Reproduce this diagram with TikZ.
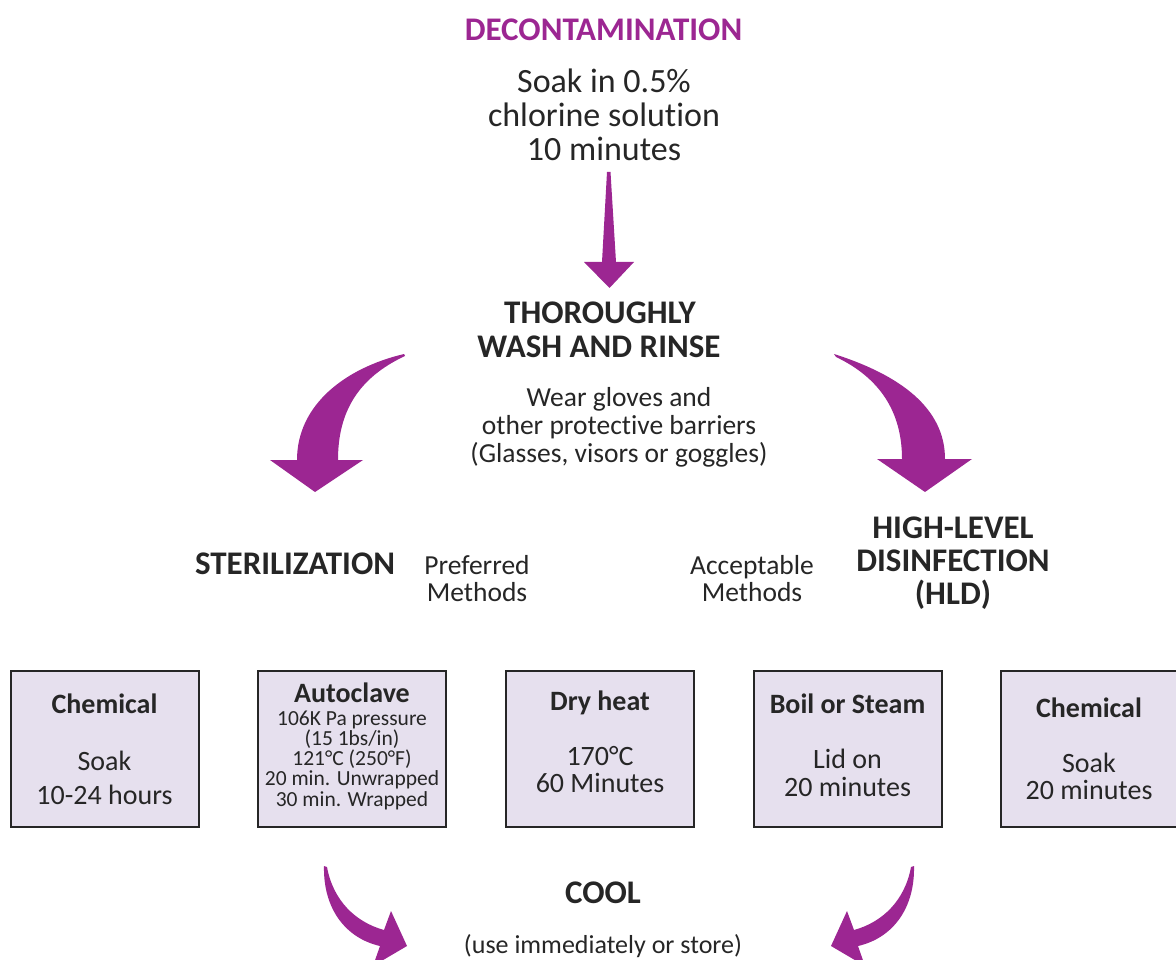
\documentclass[tikz,border=0pt]{standalone}
\usepackage{fontspec}
\setmainfont{Carlito}[Ligatures=NoCommon]
\definecolor{plum}{RGB}{156,38,146}
\definecolor{boxfill}{RGB}{230,224,238}
\definecolor{ink}{RGB}{38,38,38}
\begin{document}
\begin{tikzpicture}[x=1pt,y=-1pt,
  txt/.style={text=ink,inner sep=0pt,anchor=base},
  heading/.style={txt,font=\bfseries\fontsize{33}{33}\selectfont},
  lead/.style={txt,font=\fontsize{34}{34}\selectfont},
  note/.style={txt,font=\fontsize{27.5}{28}\selectfont},
  small/.style={txt,font=\fontsize{26}{26}\selectfont},
  boxtitle/.style={txt,font=\bfseries\fontsize{28}{28}\selectfont},
  boxbody/.style={txt,font=\fontsize{28}{28}\selectfont},
  boxtiny/.style={txt,font=\fontsize{21.5}{21.5}\selectfont},
  method/.style={draw=ink,line width=2pt,fill=boxfill,minimum width=188,minimum height=156,inner sep=0pt},
  bigarrow/.style={fill=plum,draw=none}
]
\useasboundingbox (0,0) rectangle (1176,960);
\clip (0,0) rectangle (1176,960);

% --- decontamination ---
\node[heading,text=plum] (decon) at (603.5,41) {DECONTAMINATION};
\node[lead] (soak1) at (604,92.5) {Soak in 0.5\%};
\node[lead] (soak2) at (604,126.5) {chlorine solution};
\node[lead] (soak3) at (604,160.5) {10 minutes};

% straight arrow down to washing
\fill[bigarrow] (607,172) -- (610.5,172) -- (616,262) -- (634,262) -- (609.5,288)
  -- (584,262) -- (602,262) -- cycle;

% --- wash and rinse ---
\node[heading] (wash1) at (600,323.5) {THOROUGHLY};
\node[heading] (wash2) at (599,357) {WASH AND RINSE};
\node[note] (wear1) at (619,406) {Wear gloves and};
\node[note] (wear2) at (619,434) {other protective barriers};
\node[note] (wear3) at (619,462) {(Glasses, visors or goggles)};

% curved arrow to sterilization
\fill[bigarrow] (404,354) .. controls (345,368) and (297,405) .. (297,460)
  -- (270,460) -- (315,492) -- (363,460) -- (338,460)
  .. controls (338,412) and (358,378) .. (405,356) -- cycle;

% curved arrow to high-level disinfection
\fill[bigarrow] (834,354) .. controls (900,375) and (945,408) .. (945,459)
  -- (972,459) -- (925,492) -- (877,459) -- (902,459)
  .. controls (902,412) and (880,378) .. (836,357) -- cycle;

% --- branch headings ---
\node[heading] (steril) at (295,574) {STERILIZATION};
\node[note] (pref1) at (477,574) {Preferred};
\node[note] (pref2) at (477,601) {Methods};
\node[note] (acc1) at (752,574) {Acceptable};
\node[note] (acc2) at (752,601) {Methods};
\node[heading] (hld1) at (953,538) {HIGH-LEVEL};
\node[heading] (hld2) at (953,571.5) {DISINFECTION};
\node[heading] (hld3) at (953,604) {(HLD)};

% --- method boxes ---
\node[method] (chemA) at (104.5,748.5) {};
\node[method] (autoc) at (352,748.5) {};
\node[method] (dryht) at (600,748.5) {};
\node[method] (boil)  at (847.5,748.5) {};
\node[method] (chemB) at (1095,748.5) {};

\node[boxtitle] (chemAt) at (104.5,713) {Chemical};
\node[boxbody]  (chemA1) at (104.5,770) {Soak};
\node[boxbody]  (chemA2) at (104.5,804) {10-24 hours};

\node[boxtitle] (autoct) at (352,702) {Autoclave};
\node[boxtiny]  (autoc1) at (352,725) {106K Pa pressure};
\node[boxtiny]  (autoc2) at (352,745.3) {(15 1bs/in)};
\node[boxtiny]  (autoc3) at (352,765.6) {121°C (250°F)};
\node[boxtiny]  (autoc4) at (352,785.9) {20 min. Unwrapped};
\node[boxtiny]  (autoc5) at (352,806.2) {30 min. Wrapped};

\node[boxtitle] (dryhtt) at (600,710) {Dry heat};
\node[boxbody]  (dryht1) at (600,765) {170°C};
\node[boxbody]  (dryht2) at (600,792) {60 Minutes};

\node[boxtitle] (boilt) at (847.5,713) {Boil or Steam};
\node[boxbody]  (boil1) at (847.5,768) {Lid on};
\node[boxbody]  (boil2) at (847.5,796) {20 minutes};

\node[boxtitle] (chemBt) at (1089,717) {Chemical};
\node[boxbody]  (chemB1) at (1089,772) {Soak};
\node[boxbody]  (chemB2) at (1089,799) {20 minutes};

% --- cool ---
\node[heading] (cool) at (603,903) {COOL};
\node[small] (store) at (603,953) {(use immediately or store)};

% curved arrows into cooling
\fill[bigarrow] (324,866) .. controls (323,908) and (345,938) .. (380,946)
  -- (373,966) -- (407,946) -- (391,911) -- (384,930)
  .. controls (355,922) and (333,900) .. (327,867) -- cycle;
\fill[bigarrow] (914,866) .. controls (915,908) and (893,938) .. (858,946)
  -- (865,966) -- (831,946) -- (847,911) -- (854,930)
  .. controls (883,922) and (905,900) .. (911,867) -- cycle;
\end{tikzpicture}
\end{document}
